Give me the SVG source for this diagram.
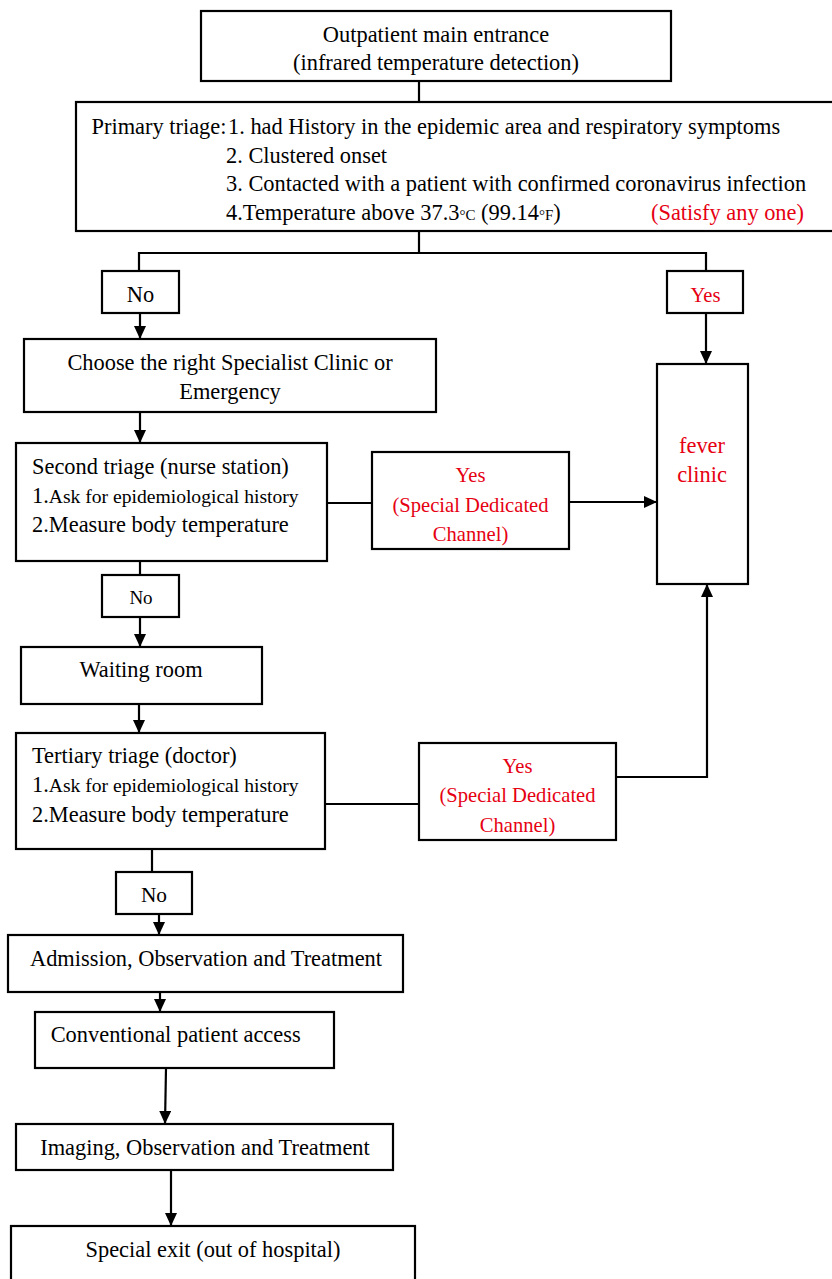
<svg xmlns="http://www.w3.org/2000/svg" width="832" height="1279" viewBox="0 0 832 1279">
<style>
  .box{fill:#fff;stroke:#000;stroke-width:2.2}
  .t{font-family:"Liberation Serif","Times New Roman",serif;font-size:22.4px;fill:#000}
  .r{font-family:"Liberation Serif","Times New Roman",serif;font-size:20.6px;fill:#e60012}
  .c{text-anchor:middle}
  .sm{font-size:19.6px}
  .deg{font-size:15px}
  .ln{fill:none;stroke:#000;stroke-width:2.2}
</style>
<defs>
  <marker id="arr" markerUnits="userSpaceOnUse" markerWidth="13" markerHeight="12" refX="13" refY="6" orient="auto">
    <path d="M0,0 L13,6 L0,12 z" fill="#000"/>
  </marker>
</defs>
<rect width="832" height="1279" fill="#fff"/>

<g id="connectors">
  <path class="ln" d="M419,81 V102"/>
  <path class="ln" d="M419,231 V253 M139,271 V253 H706 V271"/>
  <path class="ln" d="M140,313 V339" marker-end="url(#arr)"/>
  <path class="ln" d="M706,313 V364" marker-end="url(#arr)"/>
  <path class="ln" d="M140,412 V443" marker-end="url(#arr)"/>
  <path class="ln" d="M327,503 H372"/>
  <path class="ln" d="M569,502 H657" marker-end="url(#arr)"/>
  <path class="ln" d="M140,561 V575"/>
  <path class="ln" d="M140,617 V647" marker-end="url(#arr)"/>
  <path class="ln" d="M139,704 V733" marker-end="url(#arr)"/>
  <path class="ln" d="M325,804 H419"/>
  <path class="ln" d="M616,777 H707 V584" marker-end="url(#arr)"/>
  <path class="ln" d="M152,850 V872"/>
  <path class="ln" d="M159,914 V935" marker-end="url(#arr)"/>
  <path class="ln" d="M160,992 V1012" marker-end="url(#arr)"/>
  <path class="ln" d="M166,1068 L165,1124" marker-end="url(#arr)"/>
  <path class="ln" d="M171,1170 V1226" marker-end="url(#arr)"/>
</g>

<g id="entrance">
  <rect class="box" x="201" y="11" width="470" height="70"/>
  <text class="t c" x="436" y="42">Outpatient main entrance</text>
  <text class="t c" x="436" y="70">(infrared temperature detection)</text>
</g>

<g id="primary-triage">
  <rect class="box" x="76" y="102" width="770" height="129"/>
  <text class="t" x="91.5" y="134">Primary triage:</text>
  <text class="t" x="228" y="134">1. had History in the epidemic area and respiratory symptoms</text>
  <text class="t" x="226" y="162.5">2. Clustered onset</text>
  <text class="t" x="226" y="191">3. Contacted with a patient with confirmed coronavirus infection</text>
  <text class="t" x="226" y="220">4.Temperature above 37.3<tspan class="deg">°C</tspan> (99.14<tspan class="deg">°F</tspan>)</text>
  <text class="t" x="651" y="220" fill="#e60012" style="fill:#e60012">(Satisfy any one)</text>
</g>

<g id="no-1">
  <rect class="box" x="102" y="271" width="77" height="42"/>
  <text class="t c" x="140.5" y="302">No</text>
</g>

<g id="yes-1">
  <rect class="box" x="667" y="271" width="76" height="42"/>
  <text class="r c" x="705.5" y="302">Yes</text>
</g>

<g id="choose-clinic">
  <rect class="box" x="24" y="339" width="412" height="73"/>
  <text class="t c" x="230" y="370">Choose the right Specialist Clinic or</text>
  <text class="t c" x="230" y="399">Emergency</text>
</g>

<g id="fever-clinic">
  <rect class="box" x="657" y="364" width="91" height="220"/>
  <text class="t c" x="702" y="453" style="fill:#e60012">fever</text>
  <text class="t c" x="702" y="482" style="fill:#e60012">clinic</text>
</g>

<g id="second-triage">
  <rect class="box" x="16" y="443" width="311" height="118"/>
  <text class="t" x="32" y="474">Second triage (nurse station)</text>
  <text class="t" x="32" y="503">1.<tspan class="sm">Ask for epidemiological history</tspan></text>
  <text class="t" x="32" y="532">2.Measure body temperature</text>
</g>

<g id="yes-2">
  <rect class="box" x="372" y="452" width="197" height="97"/>
  <text class="r c" x="470.5" y="482">Yes</text>
  <text class="r c" x="470.5" y="512">(Special Dedicated</text>
  <text class="r c" x="470.5" y="541">Channel)</text>
</g>

<g id="no-2">
  <rect class="box" x="102" y="575" width="77" height="42"/>
  <text class="t c" x="141" y="604" style="font-size:19px">No</text>
</g>

<g id="waiting-room">
  <rect class="box" x="21" y="647" width="241" height="57"/>
  <text class="t c" x="141" y="677">Waiting room</text>
</g>

<g id="tertiary-triage">
  <rect class="box" x="16" y="733" width="309" height="116"/>
  <text class="t" x="32" y="763">Tertiary triage (doctor)</text>
  <text class="t" x="32" y="792">1.<tspan class="sm">Ask for epidemiological history</tspan></text>
  <text class="t" x="32" y="822">2.Measure body temperature</text>
</g>

<g id="yes-3">
  <rect class="box" x="419" y="743" width="197" height="97"/>
  <text class="r c" x="517.5" y="773">Yes</text>
  <text class="r c" x="517.5" y="802">(Special Dedicated</text>
  <text class="r c" x="517.5" y="832">Channel)</text>
</g>

<g id="no-3">
  <rect class="box" x="116" y="872" width="76" height="42"/>
  <text class="t c" x="154" y="902" style="font-size:21.3px">No</text>
</g>

<g id="admission">
  <rect class="box" x="8" y="935" width="395" height="57"/>
  <text class="t c" x="206" y="966">Admission, Observation and Treatment</text>
</g>

<g id="conventional-access">
  <rect class="box" x="35" y="1012" width="299" height="56"/>
  <text class="t" x="50.7" y="1042">Conventional patient access</text>
</g>

<g id="imaging">
  <rect class="box" x="16" y="1124" width="377" height="46"/>
  <text class="t c" x="205" y="1155">Imaging, Observation and Treatment</text>
</g>

<g id="special-exit">
  <rect class="box" x="11" y="1226" width="404" height="70"/>
  <text class="t c" x="213" y="1257">Special exit (out of hospital)</text>
</g>
</svg>
